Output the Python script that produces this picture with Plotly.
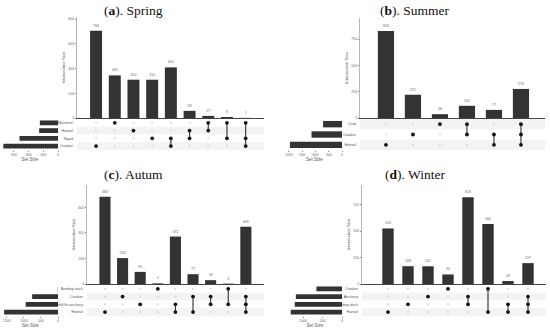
import plotly.graph_objects as go

W, H = 550, 328

# ---------------- data ----------------
spring_sets = ["Mackerel", "Hairtail", "Squid", "Croaker"]
spring_set_sizes = [371, 385, 787, 1117]
spring_combo_sizes = [706, 345, 310, 310, 410, 58, 17, 8, 1]
spring_combos = [["Croaker"], ["Mackerel"], ["Hairtail"], ["Squid"], ["Squid", "Croaker"],
                 ["Hairtail", "Squid"], ["Mackerel", "Hairtail"], ["Mackerel", "Squid"],
                 ["Mackerel", "Squid", "Croaker"]]

summer_sets = ["Crab", "Croaker", "Hairtail"]
summer_set_sizes = [428, 690, 1179]
summer_combo_sizes = [826, 221, 36, 116, 77, 276]
summer_combos = [["Hairtail"], ["Croaker"], ["Crab"], ["Crab", "Croaker"],
                 ["Croaker", "Hairtail"], ["Crab", "Croaker", "Hairtail"]]

autumn_sets = ["Bombay duck", "Croaker", "Half fin anchovy", "Hairtail"]
autumn_set_sizes = [8, 759, 949, 1582]
autumn_combo_sizes = [684, 203, 95, 5, 372, 77, 30, 3, 449]
autumn_combos = [["Hairtail"], ["Croaker"], ["Half fin anchovy"], ["Bombay duck"],
                 ["Half fin anchovy", "Hairtail"], ["Croaker", "Hairtail"],
                 ["Croaker", "Half fin anchovy"], ["Bombay duck", "Half fin anchovy"],
                 ["Croaker", "Half fin anchovy", "Hairtail"]]

winter_sets = ["Croaker", "Anchovy", "Bombay duck", "Hairtail"]
winter_set_sizes = [656, 1183, 1212, 1315]
winter_combo_sizes = [524, 168, 167, 90, 819, 566, 28, 197]
winter_combos = [["Hairtail"], ["Bombay duck"], ["Anchovy"], ["Croaker"],
                 ["Anchovy", "Bombay duck"], ["Croaker", "Hairtail"],
                 ["Bombay duck", "Hairtail"], ["Anchovy", "Bombay duck", "Hairtail"]]

titles = ["(<b>a</b>). Spring", "(<b>b</b>). Summer", "(<b>c</b>). Autum", "(<b>d</b>). Winter"]
bar_ticks = [[0, 200, 400, 600, 800], [0, 250, 500, 750], [0, 200, 400, 600], [0, 250, 500, 750]]
set_ticks = [[900, 600, 300, 0], [1200, 900, 600, 300, 0], [1500, 1000, 500, 0], [1000, 500, 0]]

# ---------------- layout geometry (pixels) ----------------
panels = [
    dict(sets=spring_sets, ssz=spring_set_sizes, csz=spring_combo_sizes, combos=spring_combos,
         barx=(77, 264), bary=(17, 118), ymax=818, xr=(-1.02, 8.98), bw=0.64,
         maty=(119, 150), setx=(2, 58), smax=1145, title=(133, 10)),
    dict(sets=summer_sets, ssz=summer_set_sizes, csz=summer_combo_sizes, combos=summer_combos,
         barx=(360, 545), bary=(18, 118), ymax=950, xr=(-0.96, 5.89), bw=0.6,
         maty=(119, 150), setx=(287, 342), smax=1245, title=(415, 10)),
    dict(sets=autumn_sets, ssz=autumn_set_sizes, csz=autumn_combo_sizes, combos=autumn_combos,
         barx=(87, 264), bary=(185, 284), ymax=776, xr=(-1.02, 9.03), bw=0.63,
         maty=(285, 316), setx=(3, 58), smax=1615, title=(133, 174)),
    dict(sets=winter_sets, ssz=winter_set_sizes, csz=winter_combo_sizes, combos=winter_combos,
         barx=(362, 546), bary=(185, 284), ymax=934, xr=(-1.3, 7.9), bw=0.57,
         maty=(285, 316), setx=(288, 342), smax=1385, title=(415, 174)),
]


def px_x(v):
    return v / W


def px_y(v):
    return 1 - v / H


fig = go.Figure()
layout = dict(width=W, height=H, margin=dict(l=0, r=0, t=0, b=0, pad=0, autoexpand=False),
              paper_bgcolor="white", plot_bgcolor="rgba(0,0,0,0)", hovermode=False,
              showlegend=False, font=dict(family="Liberation Sans", color="#444"))
shapes = []
annotations = []

DARK = "#333333"
TXT = "#6a6a6a"

for p, P in enumerate(panels):
    a, b, c = 3 * p + 1, 3 * p + 2, 3 * p + 3
    sa = "" if a == 1 else str(a)
    n = len(P["csz"])
    k = len(P["sets"])
    xs = list(range(n))

    # intersection bars
    fig.add_trace(go.Bar(x=xs, y=P["csz"], width=P["bw"], marker=dict(color=DARK, line=dict(width=0)),
                         text=[str(v) for v in P["csz"]], textposition="outside",
                         textfont=dict(size=3.6, color=TXT), constraintext="none", cliponaxis=False,
                         xaxis="x" + sa, yaxis="y" + sa, hoverinfo="skip"))
    layout["xaxis" + sa] = dict(domain=[px_x(P["barx"][0]), px_x(P["barx"][1])], range=list(P["xr"]),
                                anchor="y" + sa, showline=True, linecolor="#444", linewidth=1,
                                showticklabels=False, ticks="", showgrid=False, zeroline=False,
                                automargin=False)
    layout["yaxis" + sa] = dict(domain=[px_y(P["bary"][1]), px_y(P["bary"][0])], range=[0, P["ymax"]],
                                anchor="x" + sa, showline=True, linecolor="#888", linewidth=0.6,
                                tickvals=bar_ticks[p], ticks="outside", ticklen=1.5, tickcolor="#888",
                                tickfont=dict(size=3.6, color=TXT), showgrid=False, zeroline=False,
                                automargin=False,
                                title=dict(text="Intersection Size", font=dict(size=4.3, color="#555"),
                                           standoff=2))

    # matrix
    layout["xaxis" + str(b)] = dict(domain=[px_x(P["barx"][0]), px_x(P["barx"][1])], range=list(P["xr"]),
                                    anchor="y" + str(b), showline=False, showticklabels=False, ticks="",
                                    showgrid=False, zeroline=False, automargin=False)
    layout["yaxis" + str(b)] = dict(domain=[px_y(P["maty"][1]), px_y(P["maty"][0])], range=[k - 0.5, -0.5],
                                    anchor="x" + str(b), tickvals=list(range(k)), ticktext=P["sets"],
                                    ticks="", tickfont=dict(size=3.7, color="#555"), showgrid=False,
                                    zeroline=False, showline=False, ticklabelstandoff=3, automargin=False)
    for r in range(k):
        if (k - 1 - r) % 2 == 0:
            shapes.append(dict(type="rect", xref="x%d domain" % b, yref="y%d" % b, x0=0, x1=1,
                               y0=r - 0.5, y1=r + 0.5, fillcolor="#f3f3f3", line=dict(width=0), layer="below"))
    ex, ey, fx, fy, lx, ly = [], [], [], [], [], []
    for i, combo in enumerate(P["combos"]):
        rows = [P["sets"].index(s) for s in combo]
        for r in range(k):
            if r in rows:
                fx.append(i); fy.append(r)
            else:
                ex.append(i); ey.append(r)
        if len(rows) > 1:
            lx += [i, i, None]
            ly += [min(rows), max(rows), None]
    fig.add_trace(go.Scatter(x=ex, y=ey, mode="markers", marker=dict(size=2.2, color="#d8d8d8"),
                             xaxis="x%d" % b, yaxis="y%d" % b, hoverinfo="skip"))
    fig.add_trace(go.Scatter(x=lx, y=ly, mode="lines", line=dict(color=DARK, width=1.1),
                             xaxis="x%d" % b, yaxis="y%d" % b, hoverinfo="skip"))
    fig.add_trace(go.Scatter(x=fx, y=fy, mode="markers", marker=dict(size=3.8, color="#111"),
                             xaxis="x%d" % b, yaxis="y%d" % b, hoverinfo="skip"))

    # set size bars
    fig.add_trace(go.Bar(x=P["ssz"], y=list(range(k)), orientation="h", width=0.62,
                         marker=dict(color=DARK, line=dict(width=0)),
                         xaxis="x%d" % c, yaxis="y%d" % c, hoverinfo="skip"))
    layout["xaxis%d" % c] = dict(domain=[px_x(P["setx"][0]), px_x(P["setx"][1])], range=[P["smax"], 0],
                                 anchor="y%d" % c, tickvals=set_ticks[p], ticks="outside", ticklen=1,
                                 tickcolor="#888", tickfont=dict(size=3.6, color=TXT), showgrid=False,
                                 zeroline=False, showline=False, automargin=False,
                                 title=dict(text="Set Size", font=dict(size=4.5, color="#555"), standoff=0))
    layout["yaxis%d" % c] = dict(domain=[px_y(P["maty"][1]), px_y(P["maty"][0])], range=[k - 0.5, -0.5],
                                 anchor="x%d" % c, showticklabels=False, ticks="", showgrid=False,
                                 zeroline=False, showline=False, automargin=False)

    annotations.append(dict(text=titles[p], xref="paper", yref="paper",
                            x=px_x(P["title"][0]), y=px_y(P["title"][1]), showarrow=False,
                            xanchor="center", yanchor="middle",
                            font=dict(family="Liberation Serif", size=13.5, color="#111")))

layout["shapes"] = shapes
layout["annotations"] = annotations
fig.update_layout(**layout)
fig.write_html("out.html", config={"displayModeBar": False, "staticPlot": True},
               post_script="document.body.style.margin='0';document.body.style.padding='0';document.body.style.overflow='hidden';")
